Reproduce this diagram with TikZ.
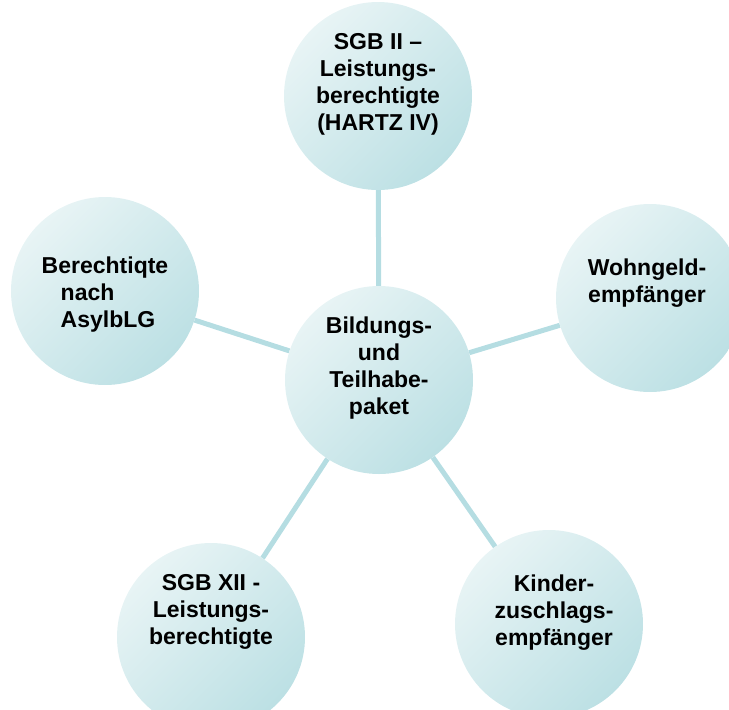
\documentclass[tikz,border=0pt]{standalone}
\usepackage{fontspec}
\setmainfont{Liberation Sans}
\usetikzlibrary{backgrounds}
\definecolor{bubblelight}{HTML}{E8F4F5}
\definecolor{bubbledark}{HTML}{BCE0E4}
\definecolor{spoke}{HTML}{B5DDE2}
\begin{document}
\begin{tikzpicture}[x=1pt,y=-1pt,
    bubble/.style={circle,minimum size=188pt,inner sep=0pt,shading=axis,
        top color=bubblelight,bottom color=bubbledark,shading angle=45},
    txt/.style={align=center,inner sep=0pt,
        font=\bfseries\fontsize{23}{27}\selectfont},
    link/.style={draw=spoke,line width=5pt}]
        \clip (0,0) rectangle (729,710);
        \node[bubble] (paket) at (379,380) {};
        \node[bubble] (sgb2) at (378,96) {};
        \node[bubble] (wohn) at (650,298) {};
        \node[bubble] (asyl) at (105,291) {};
        \node[bubble] (sgb12) at (211,637) {};
        \node[bubble] (kinder) at (549,624) {};
        \node[txt] (pakett) at (379,368) {Bildungs-\\und\\Teilhabe-\\paket};
        \node[txt] (sgb2t) at (378,84) {SGB II --\\Leistungs-\\berechtigte\\(HARTZ IV)};
        \node[txt] (wohnt) at (647,283) {Wohngeld-\\empfänger};
        \node[txt,align=left] (asylt) at (105,295) {Berechtiqte\\\hspace*{19pt}nach\\\hspace*{19pt}AsylbLG};
        \node[txt] (sgb12t) at (211,612) {SGB XII -\\Leistungs-\\berechtigte};
        \node[txt] (kindert) at (554,613) {Kinder-\\zuschlags-\\empfänger};
        \begin{scope}[on background layer]
        \draw[link] (paket) -- (sgb2);
        \draw[link] (paket) -- (wohn);
        \draw[link] (paket) -- (asyl);
        \draw[link] (paket) -- (sgb12);
        \draw[link] (paket) -- (kinder);
        \end{scope}
    \end{tikzpicture}
\end{document}
